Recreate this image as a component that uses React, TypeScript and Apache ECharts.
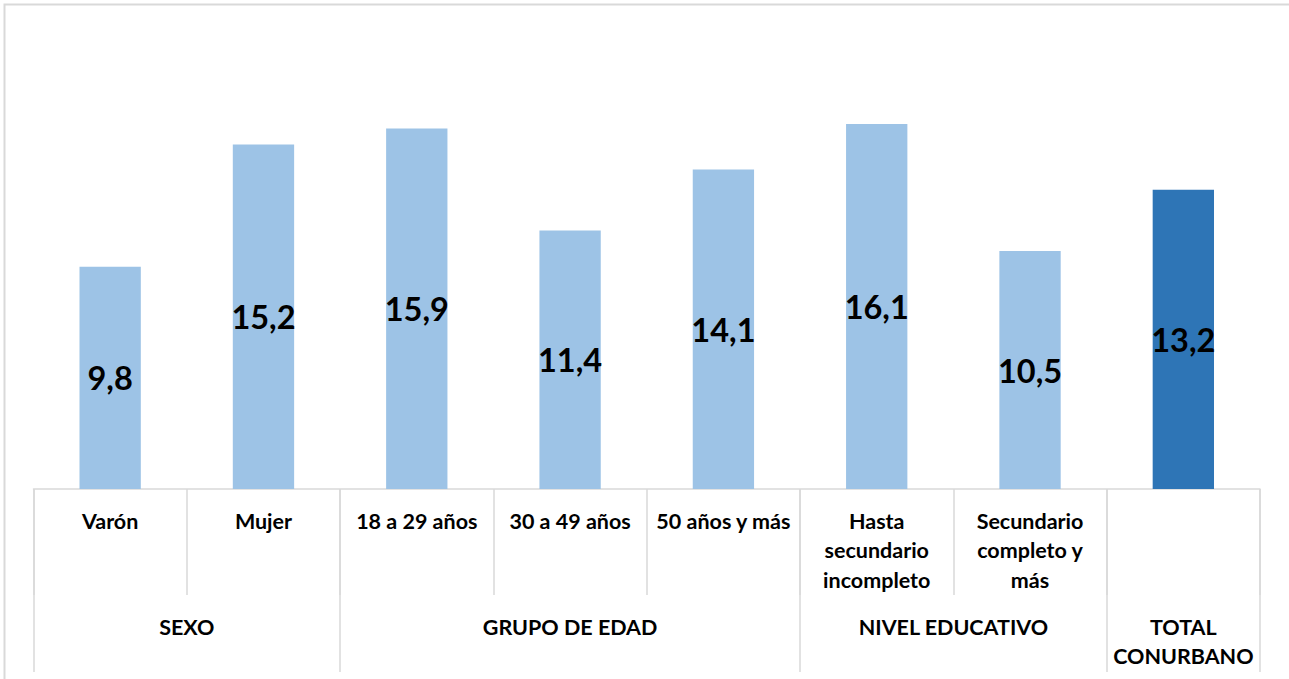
import React, { useEffect, useRef } from "react";
import * as echarts from "echarts";

const categories = [
  "Varón",
  "Mujer",
  "18 a 29 años",
  "30 a 49 años",
  "50 años y más",
  "Hasta\nsecundario\nincompleto",
  "Secundario\ncompleto y\nmás",
  "",
];
const values = [9.8, 15.2, 15.9, 11.4, 14.1, 16.1, 10.5, 13.2];
const highlightIndex = 7;

// group axis: 17 half-step points (0..8 in steps of 0.5)
const groupLabels = [
  "", "", "SEXO", "", "", "", "", "GRUPO DE EDAD", "", "", "", "", "NIVEL EDUCATIVO", "", "", "TOTAL\nCONURBANO", "",
];
const groupTickIdx = [0, 4, 10, 14, 16];

const FONT = "Lato";
const GRAY = "#d9d9d9";

export default function App() {
  const ref = useRef<HTMLDivElement>(null);
  useEffect(() => {
    if (!ref.current) return;
    const chart = echarts.init(ref.current, undefined, { renderer: "svg" });
    chart.setOption({
      animation: false,
      grid: { left: 33.5, right: 29, top: 81, bottom: 190, containLabel: false },
      graphic: [
        {
          type: "polyline",
          shape: { points: [[4.5, 690], [4.5, 4.5], [1295, 4.5]] },
          style: { fill: "none", stroke: GRAY, lineWidth: 2 },
          silent: true,
          z: -1,
        },
      ],
      xAxis: [
        {
          type: "category",
          data: categories,
          position: "bottom",
          axisLine: { show: true, lineStyle: { color: GRAY, width: 1.5 } },
          axisTick: { show: true, length: 106, interval: 0, lineStyle: { color: GRAY, width: 1.5 } },
          axisLabel: {
            interval: 0,
            margin: 17,
            fontFamily: FONT,
            fontWeight: "bold",
            fontSize: 21.5,
            lineHeight: 29.5,
            color: "#000",
            verticalAlign: "top",
          },
        },
        {
          type: "category",
          data: groupLabels,
          position: "bottom",
          boundaryGap: false,
          axisLine: { show: false },
          axisTick: {
            show: true,
            length: 183,
            interval: (i: number) => groupTickIdx.includes(i),
            lineStyle: { color: GRAY, width: 1.5 },
          },
          axisLabel: {
            interval: 0,
            margin: 123,
            fontFamily: FONT,
            fontWeight: "bold",
            fontSize: 21.5,
            lineHeight: 29.5,
            color: "#000",
            verticalAlign: "top",
          },
        },
      ],
      yAxis: {
        type: "value",
        min: 0,
        max: 18,
        show: false,
        splitLine: { show: false },
      },
      series: [
        {
          type: "bar",
          xAxisIndex: 0,
          barWidth: "40%",
          data: values.map((v, i) => ({
            value: v,
            itemStyle: { color: i === highlightIndex ? "#2e75b6" : "#9dc3e6" },
          })),
          label: {
            show: true,
            position: "inside",
            formatter: (p: any) => String(p.value).replace(".", ","),
            fontFamily: FONT,
            fontWeight: "bold",
            fontSize: 32.5,
            color: "#000",
          },
        },
      ],
    });
    return () => chart.dispose();
  }, []);
  return (
    <div
      ref={ref}
      style={{ position: "absolute", left: 0, top: 0, width: 1289, height: 679 }}
    />
  );
}
